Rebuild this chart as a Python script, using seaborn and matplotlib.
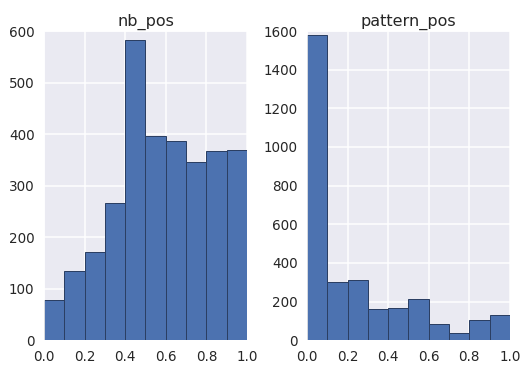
import numpy as np
import pandas as pd
import matplotlib
matplotlib.use('Agg')
import matplotlib.pyplot as plt
import seaborn as sns

# bin edges shared by both histograms (10 bins on 0..1)
bin_edges = [0.0, 0.1, 0.2, 0.3, 0.4, 0.5, 0.6, 0.7, 0.8, 0.9, 1.0]
bin_centers = [0.05, 0.15, 0.25, 0.35, 0.45, 0.55, 0.65, 0.75, 0.85, 0.95]

# counts
nb_pos_counts = [77, 134, 172, 267, 583, 396, 386, 345, 368, 370]
pattern_pos_counts = [1582, 303, 310, 159, 164, 211, 86, 38, 102, 128]

columns = ['nb_pos', 'pattern_pos']
counts = {'nb_pos': nb_pos_counts, 'pattern_pos': pattern_pos_counts}
yticks = {'nb_pos': [0, 100, 200, 300, 400, 500, 600],
          'pattern_pos': [0, 200, 400, 600, 800, 1000, 1200, 1400, 1600]}

sns.set_style('darkgrid')
plt.rcParams['font.family'] = ['DejaVu Sans']
plt.rcParams['grid.linewidth'] = 1.5

fig, axes = plt.subplots(1, 2, figsize=(530 / 72, 375 / 72), dpi=72)
fig.subplots_adjust(left=0.083, right=0.962, top=0.917, bottom=0.093, wspace=0.296)

for ax, col in zip(axes, columns):
    df = pd.DataFrame({'x': bin_centers, 'n': counts[col]})
    sns.histplot(data=df, x='x', weights='n', bins=bin_edges, ax=ax,
                 color='#4C72B0', alpha=1, edgecolor='#2B3F63', linewidth=1)
    ax.set_xlim(0, 1)
    ax.set_ylim(0, yticks[col][-1])
    ax.set_yticks(yticks[col])
    ax.set_xticks([0, 0.2, 0.4, 0.6, 0.8, 1.0])
    ax.set_xticklabels(['0.0', '0.2', '0.4', '0.6', '0.8', '1.0'])
    ax.set_xlabel('')
    ax.set_ylabel('')
    ax.set_title(col, fontsize=16, pad=5)
    ax.tick_params(labelsize=13.5, colors='#262626', pad=6)

plt.savefig('out.png', dpi=72)
